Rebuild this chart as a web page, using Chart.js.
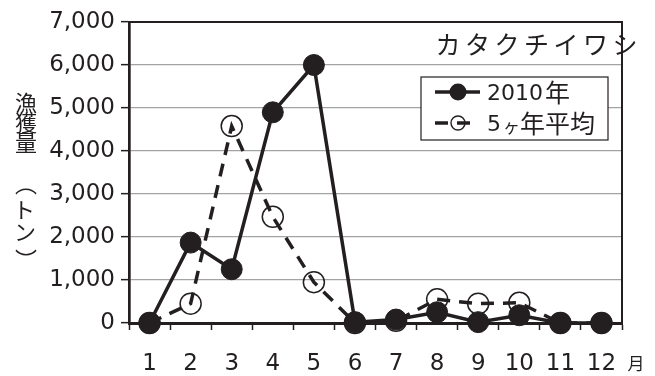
<!DOCTYPE html>
<html>
<head>
<meta charset="utf-8">
<script src="https://cdn.jsdelivr.net/npm/chart.js@4.4.0/dist/chart.umd.min.js"></script>
<style>
  html, body { margin: 0; padding: 0; background: #fff; }
  #wrap { width: 655px; height: 376px; }
</style>
</head>
<body>
<div id="wrap"><canvas id="c" width="655" height="376"></canvas></div>
<script>
// Monthly catch of anchovy (カタクチイワシ), tonnes
const months = ['1', '2', '3', '4', '5', '6', '7', '8', '9', '10', '11', '12'];
const catch2010 = [0, 1870, 1250, 4900, 6000, 20, 80, 250, 20, 180, 0, 0];
const avg5yr = [0, 450, 4580, 2470, 950, 0, 50, 550, 450, 470, 0, 0];
const yTickValues = [0, 1000, 2000, 3000, 4000, 5000, 6000, 7000];
const seriesLabels = ['2010年', '5ヶ年平均'];
const speciesTitle = 'カタクチイワシ';
const yTitleChars = ['漁', '獲', '量', '︵', 'ト', 'ン', '︶'];
const monthUnit = '月';

const INK = '#231f20';
const GRID = '#a3a3a3';
const NUM_FONT = '"DejaVu Sans", "Liberation Sans", sans-serif';
const JP_FONT = '"Noto Sans CJK JP", "Noto Sans", sans-serif';

// draw a glyph with its ink box centred on (x, y)
function inkCentered(ctx, ch, x, y) {
  ctx.textAlign = 'left';
  ctx.textBaseline = 'alphabetic';
  const m = ctx.measureText(ch);
  const left = m.actualBoundingBoxLeft, right = m.actualBoundingBoxRight;
  const asc = m.actualBoundingBoxAscent, desc = m.actualBoundingBoxDescent;
  ctx.fillText(ch, x - (right - left) / 2, y + (asc - desc) / 2);
}

// Frame (top/right), species name, vertical axis title, month unit and legend
const decorations = {
  id: 'decorations',
  beforeDatasetsDraw(chart) {
    const { ctx, chartArea: a } = chart;
    ctx.save();
    ctx.strokeStyle = INK;
    ctx.lineWidth = 2;
    ctx.beginPath();
    ctx.moveTo(a.left, a.top);
    ctx.lineTo(a.right, a.top);
    ctx.lineTo(a.right, a.bottom);
    ctx.stroke();
    ctx.restore();
  },
  afterDraw(chart) {
    const { ctx } = chart;
    ctx.save();
    ctx.fillStyle = INK;

    // species name, spaced out along the top right
    ctx.font = '25px ' + JP_FONT;
    ctx.textAlign = 'center';
    ctx.textBaseline = 'middle';
    Array.from(speciesTitle).forEach((ch, i) => {
      ctx.fillText(ch, 448 + i * 29.5, 44);
    });

    // vertical axis title, one character per row
    const rows = [102.5, 122.5, 142.5, 191.5, 210, 232.5, 252.5];
    yTitleChars.forEach((ch, i) => {
      ctx.font = '22px ' + JP_FONT;
      inkCentered(ctx, ch, 26, rows[i]);
    });

    // month unit after the last category label
    ctx.font = '17px ' + JP_FONT;
    inkCentered(ctx, monthUnit, 634.5, 364);

    // legend box
    const bx = 421, by = 77, bw = 187, bh = 63;
    ctx.fillStyle = '#fff';
    ctx.fillRect(bx, by, bw, bh);
    ctx.strokeStyle = INK;
    ctx.lineWidth = 1.2;
    ctx.strokeRect(bx, by, bw, bh);

    const ds = chart.data.datasets;
    const rowsY = [92, 123];
    ds.forEach((d, i) => {
      const y = rowsY[i];
      ctx.save();
      ctx.strokeStyle = INK;
      ctx.lineWidth = 3.5;
      ctx.setLineDash(d.borderDash || []);
      ctx.beginPath();
      ctx.moveTo(435, y);
      ctx.lineTo(i === 0 ? 480 : 470, y);
      ctx.stroke();
      ctx.setLineDash([]);
      ctx.beginPath();
      if (i === 0) {
        ctx.arc(458, y, 8.5, 0, Math.PI * 2);
        ctx.fillStyle = INK;
        ctx.fill();
      } else {
        ctx.arc(458, y, 7, 0, Math.PI * 2);
        ctx.lineWidth = 1.4;
        ctx.stroke();
      }
      ctx.restore();

      // label: digits in the numeric face, kana/kanji in the CJK face
      ctx.fillStyle = INK;
      ctx.textAlign = 'left';
      ctx.textBaseline = 'alphabetic';
      let x = 487;
      const base = y + 8;
      let prevDigit = false;
      for (const ch of Array.from(d.label)) {
        const isDigit = /[0-9]/.test(ch);
        if (!isDigit && prevDigit) x += 2;
        if (ch === 'ヶ') {
          ctx.font = '17px ' + JP_FONT;
        } else {
          ctx.font = isDigit ? '22px ' + NUM_FONT : '25px ' + JP_FONT;
        }
        ctx.fillText(ch, x, base + (isDigit ? 0 : 1.5));
        x += ctx.measureText(ch).width;
        prevDigit = isDigit;
      }
    });
    ctx.restore();
  }
};

new Chart(document.getElementById('c'), {
  type: 'line',
  data: {
    labels: months,
    datasets: [
      {
        label: seriesLabels[0],
        data: catch2010,
        borderColor: INK,
        borderWidth: 3.5,
        backgroundColor: INK,
        pointRadius: 10.5,
        pointHoverRadius: 10.5,
        pointBackgroundColor: INK,
        pointBorderColor: INK,
        pointBorderWidth: 1,
        tension: 0,
        clip: false
      },
      {
        label: seriesLabels[1],
        data: avg5yr,
        borderColor: INK,
        borderWidth: 3.5,
        borderDash: [13, 9],
        pointRadius: 10.5,
        pointHoverRadius: 10.5,
        pointBackgroundColor: 'rgba(0,0,0,0)',
        pointBorderColor: INK,
        pointBorderWidth: 1.5,
        tension: 0,
        clip: false
      }
    ]
  },
  options: {
    responsive: false,
    animation: false,
    devicePixelRatio: 1,
    layout: { padding: { top: 22, right: 33, left: 0, bottom: 0 } },
    plugins: {
      legend: { display: false },
      tooltip: { enabled: false },
      title: { display: false }
    },
    scales: {
      x: {
        type: 'category',
        offset: true,
        afterFit: s => { s.height = 53; },
        grid: {
          offset: true,
          drawOnChartArea: false,
          drawTicks: true,
          tickLength: 7,
          tickColor: INK,
          tickWidth: 1.5
        },
        border: { color: INK, width: 3 },
        ticks: {
          color: INK,
          padding: 20,
          maxRotation: 0,
          autoSkip: false,
          font: { family: NUM_FONT, size: 23 }
        }
      },
      y: {
        min: 0,
        max: 7000,
        afterFit: s => { s.width = 129; },
        afterBuildTicks: s => { s.ticks = yTickValues.map(v => ({ value: v })); },
        grid: {
          color: c => (c.tick && (c.tick.value === 0 || c.tick.value === 7000)) ? 'rgba(0,0,0,0)' : GRID,
          lineWidth: 1.3,
          drawTicks: true,
          tickLength: 8,
          tickColor: INK,
          tickWidth: 1.5
        },
        border: { color: INK, width: 2.7 },
        ticks: {
          color: INK,
          padding: 6,
          font: { family: NUM_FONT, size: 23 },
          callback: v => Number(v).toLocaleString('en-US')
        }
      }
    }
  },
  plugins: [decorations]
});
</script>
</body>
</html>
